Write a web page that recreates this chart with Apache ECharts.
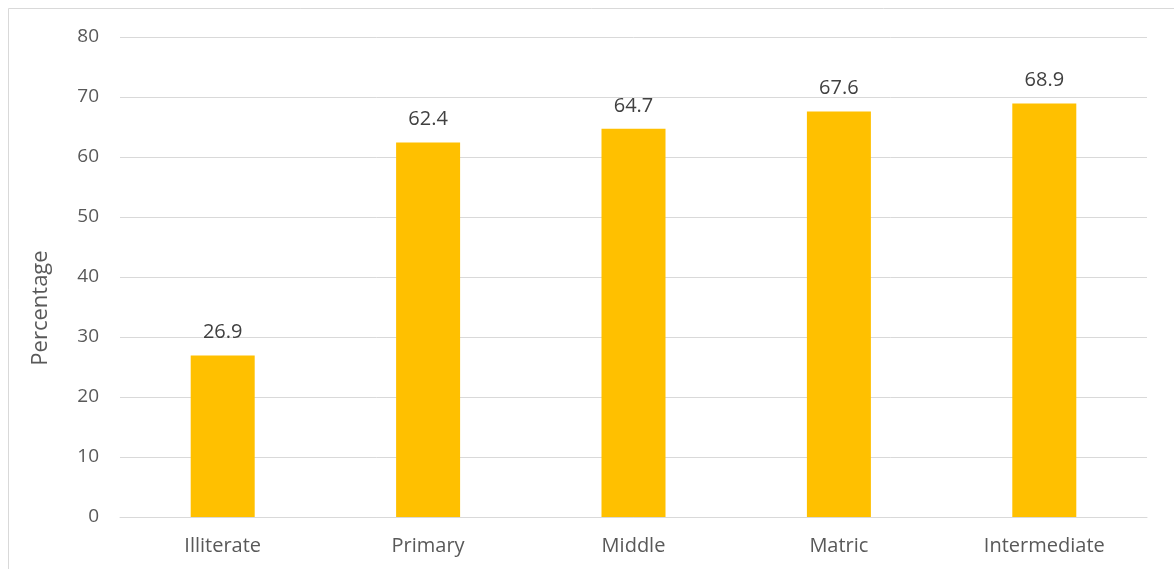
<!DOCTYPE html>
<html>
<head>
<meta charset="utf-8">
<style>
  html, body { margin: 0; padding: 0; background: #fff; }
  #chart { width: 1174px; height: 569px; }
</style>
<script src="https://cdn.jsdelivr.net/npm/echarts@6/dist/echarts.min.js"></script>
</head>
<body>
<div id="chart"></div>
<script>
// Education levels and their percentages
const categories = ['Illiterate', 'Primary', 'Middle', 'Matric', 'Intermediate'];
const percentages = [26.9, 62.4, 64.7, 67.6, 68.9];
const yTicks = [0, 10, 20, 30, 40, 50, 60, 70, 80];

const FONT = '"Open Sans", "Noto Sans", sans-serif';

const chart = echarts.init(document.getElementById('chart'), null, { renderer: 'canvas' });

chart.setOption({
  backgroundColor: '#ffffff',
  animation: false,
  grid: { left: 120, right: 27, top: 37, bottom: 52 },
  graphic: [
    {
      type: 'rect',
      shape: { x: 8.5, y: 8.5, width: 1200, height: 600 },
      style: { fill: 'none', stroke: '#D9D9D9', lineWidth: 1 },
      silent: true
    },
    {
      type: 'text',
      x: 41, y: 308,
      rotation: Math.PI / 2,
      style: {
        text: 'Percentage',
        fill: '#595959',
        font: '22px ' + FONT,
        align: 'center',
        verticalAlign: 'middle'
      },
      silent: true
    }
  ],
  xAxis: {
    type: 'category',
    data: categories,
    axisLine: { show: true, lineStyle: { color: '#D9D9D9', width: 1 } },
    axisTick: { show: false },
    axisLabel: { color: '#595959', fontSize: 20, fontFamily: FONT, margin: 19 },
    splitLine: { show: false }
  },
  yAxis: {
    type: 'value',
    min: yTicks[0],
    max: yTicks[yTicks.length - 1],
    interval: yTicks[1] - yTicks[0],
    axisLine: { show: false },
    axisTick: { show: false },
    axisLabel: { color: '#595959', fontSize: 19, fontFamily: FONT, margin: 21 },
    splitLine: { show: true, lineStyle: { color: '#D9D9D9', width: 1 } }
  },
  series: [{
    type: 'bar',
    data: percentages,
    barWidth: 64,
    itemStyle: { color: '#FFC000' },
    label: {
      show: true,
      position: 'top',
      distance: 13,
      color: '#404040',
      fontSize: 20,
      fontFamily: FONT,
      formatter: p => p.value.toFixed(1)
    }
  }]
});
</script>
</body>
</html>
